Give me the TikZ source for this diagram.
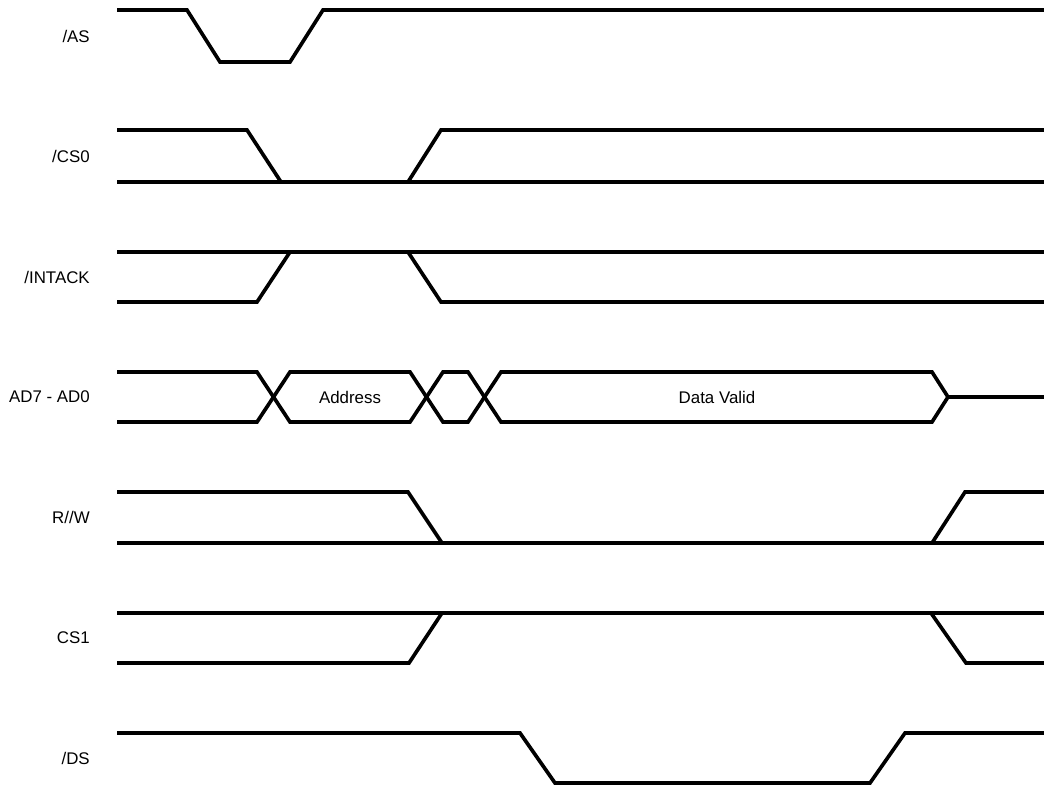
\documentclass[tikz,border=0pt]{standalone}
\usepackage{fontspec}
\setmainfont{Liberation Sans}
\usepackage{tikz}
\tikzset{
  wave/.style={draw=black,line width=2.6pt},
  siglabel/.style={font=\fontsize{12}{14}\selectfont,anchor=east,inner sep=0pt},
  buslabel/.style={font=\fontsize{12}{14}\selectfont,inner sep=0pt},
}

\begin{document}
\begin{tikzpicture}[x=0.025cm,y=-0.025cm]
  \useasboundingbox (0,0) rectangle (1044,786);
  % signal names
  \foreach \y/\name/\lab in {36/as/{/AS},156/csz/{/CS0},277/intack/{/INTACK},397/ad/{AD7 - AD0},517/rw/{R//W},638/csone/{CS1},758/ds/{/DS}}{
    \node[siglabel] (\name) at (90,\y) {\lab};
  }
  % /AS
  \draw[wave] (117,10) -- (187,10) -- (220,62) -- (290,62) -- (323,10) -- (1044,10);
  % /CS0
  \draw[wave] (117,130) -- (247,130) -- (281,182);
  \draw[wave] (117,182) -- (1044,182);
  \draw[wave] (408,182) -- (441,130) -- (1044,130);
  % /INTACK
  \draw[wave] (117,252) -- (1044,252);
  \draw[wave] (117,302) -- (257,302) -- (290,252);
  \draw[wave] (408,252) -- (441,302) -- (1044,302);
  % AD7 - AD0
  \draw[wave] (117,372) -- (257,372) -- (290,422) -- (410,422) -- (443,372) -- (468,372) -- (501,422) -- (932,422) -- (948,397) -- (1044,397);
  \draw[wave] (117,422) -- (257,422) -- (290,372) -- (410,372) -- (443,422) -- (468,422) -- (501,372) -- (932,372) -- (948,397);
  \node[buslabel] (addr) at (350,397) {Address};
  \node[buslabel] (data) at (717,397) {Data Valid};
  % R//W
  \draw[wave] (117,492) -- (408,492) -- (442,543);
  \draw[wave] (117,543) -- (1044,543);
  \draw[wave] (932,543) -- (965,492) -- (1044,492);
  % CS1
  \draw[wave] (117,613) -- (1044,613);
  \draw[wave] (117,663) -- (409,663) -- (442,613);
  \draw[wave] (931,613) -- (966,663) -- (1044,663);
  % /DS
  \draw[wave] (117,733) -- (520,733) -- (555,783) -- (870,783) -- (905,733) -- (1044,733);
\end{tikzpicture}
\end{document}
